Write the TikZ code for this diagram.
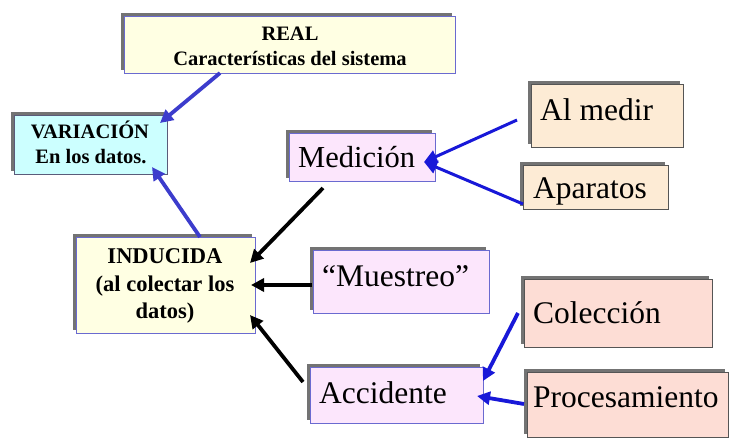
\documentclass[tikz,border=0pt]{standalone}
\usepackage{fontspec}
\setmainfont{Liberation Serif}
\usetikzlibrary{arrows.meta,shadows}
\definecolor{cream}{HTML}{FFFFE3}
\definecolor{cyanbox}{HTML}{CCFFFF}
\definecolor{pinkbox}{HTML}{FCE6FC}
\definecolor{peach}{HTML}{FDEBD5}
\definecolor{salmon}{HTML}{FDDDD5}
\definecolor{bborder}{HTML}{6A6AD0}
\definecolor{gborder}{HTML}{555555}
\definecolor{arrblue}{HTML}{3C3CCC}
\definecolor{arrbright}{HTML}{1818D8}
\tikzset{
  box/.style={draw=bborder, line width=0.9pt, inner sep=0pt, anchor=north west,
    general shadow={fill=black!55, shadow xshift=-3pt, shadow yshift=3pt}},
  gbox/.style={box, draw=gborder},
  boldtxt/.style={font=\bfseries\fontsize{20.5}{24}\selectfont, inner sep=0pt, anchor=base},
  indtxt/.style={font=\bfseries\fontsize{22.5}{27}\selectfont, inner sep=0pt, anchor=base},
  bigtxt/.style={font=\fontsize{31.5}{36}\selectfont, inner sep=0pt, anchor=base west},
  conn/.style={line width=3.8pt, -{Triangle[length=13pt,width=13pt]}},
}
\begin{document}
\begin{tikzpicture}[x=1pt,y=-1pt]
\useasboundingbox (0,0) rectangle (729,439);
% boxes
\node[box, fill=cream, minimum width=331pt, minimum height=57pt] (real) at (124,16) {};
\node[box, draw=gborder!70!bborder, fill=cyanbox, minimum width=153pt, minimum height=59pt] (var) at (14,115) {};
\node[box, fill=cream, minimum width=179pt, minimum height=96pt] (ind) at (76,237) {};
\node[box, fill=pinkbox, minimum width=146pt, minimum height=48pt] (med) at (289,133) {};
\node[box, fill=pinkbox, minimum width=176pt, minimum height=63pt] (mue) at (313,250) {};
\node[box, fill=pinkbox, minimum width=173pt, minimum height=56pt] (acc) at (310,367) {};
\node[gbox, fill=peach, minimum width=152pt, minimum height=63pt] (alm) at (531,84) {};
\node[gbox, fill=peach, minimum width=145pt, minimum height=44pt] (apa) at (523,165) {};
\node[gbox, fill=salmon, minimum width=188pt, minimum height=68pt] (col) at (524,279) {};
\node[gbox, fill=salmon, minimum width=201pt, minimum height=65pt] (pro) at (527,372) {};
% texts
\node[boldtxt] (t1) at (290,41) {REAL};
\node[boldtxt] (t2) at (290,65) {Características del sistema};
\node[boldtxt] (t3) at (90,138) {VARIACIÓN};
\node[boldtxt] (t4) at (91,163) {En los datos.};
\node[indtxt] (t5) at (165,263) {INDUCIDA};
\node[indtxt] (t6) at (165,291) {(al colectar los};
\node[indtxt] (t7) at (165,318) {datos)};
\node[bigtxt, font=\fontsize{30.5}{36}\selectfont] (t8) at (298,167) {Medición};
\node[bigtxt] (t9) at (322,286) {“Muestreo”};
\node[bigtxt] (t10) at (319,403) {Accidente};
\node[bigtxt] (t11) at (540,120) {Al medir};
\node[bigtxt] (t12) at (533,198) {Aparatos};
\node[bigtxt] (t13) at (533,323) {Colección};
\node[bigtxt] (t14) at (533,407) {Procesamiento};
% connector end points
\coordinate (a1s) at (220,73);  \coordinate (a1e) at (160,123);
\coordinate (a2s) at (200,237); \coordinate (a2e) at (152,167);
\coordinate (a3s) at (323,188); \coordinate (a3e) at (250,263);
\coordinate (a4s) at (312,285); \coordinate (a4e) at (251,285);
\coordinate (a5s) at (303,382); \coordinate (a5e) at (250,315);
\coordinate (a6s) at (517,120); \coordinate (a6e) at (424,162);
\coordinate (a7s) at (523,204);
\coordinate (a8s) at (518,313); \coordinate (a8e) at (483,381);
\coordinate (a9s) at (524,404); \coordinate (a9e) at (477,396);
% connectors
\draw[conn, arrblue] (a1s) -- (a1e);
\draw[conn, arrblue] (a2s) -- (a2e);
\draw[conn, black] (a3s) -- (a3e);
\draw[conn, black] (a4s) -- (a4e);
\draw[conn, black] (a5s) -- (a5e);
\draw[conn, arrbright, line width=3pt] (a6s) -- (a6e);
\draw[conn, arrbright, line width=3pt] (a7s) -- (a6e);
\draw[conn, arrbright] (a8s) -- (a8e);
\draw[conn, arrbright] (a9s) -- (a9e);
\end{tikzpicture}
\end{document}
